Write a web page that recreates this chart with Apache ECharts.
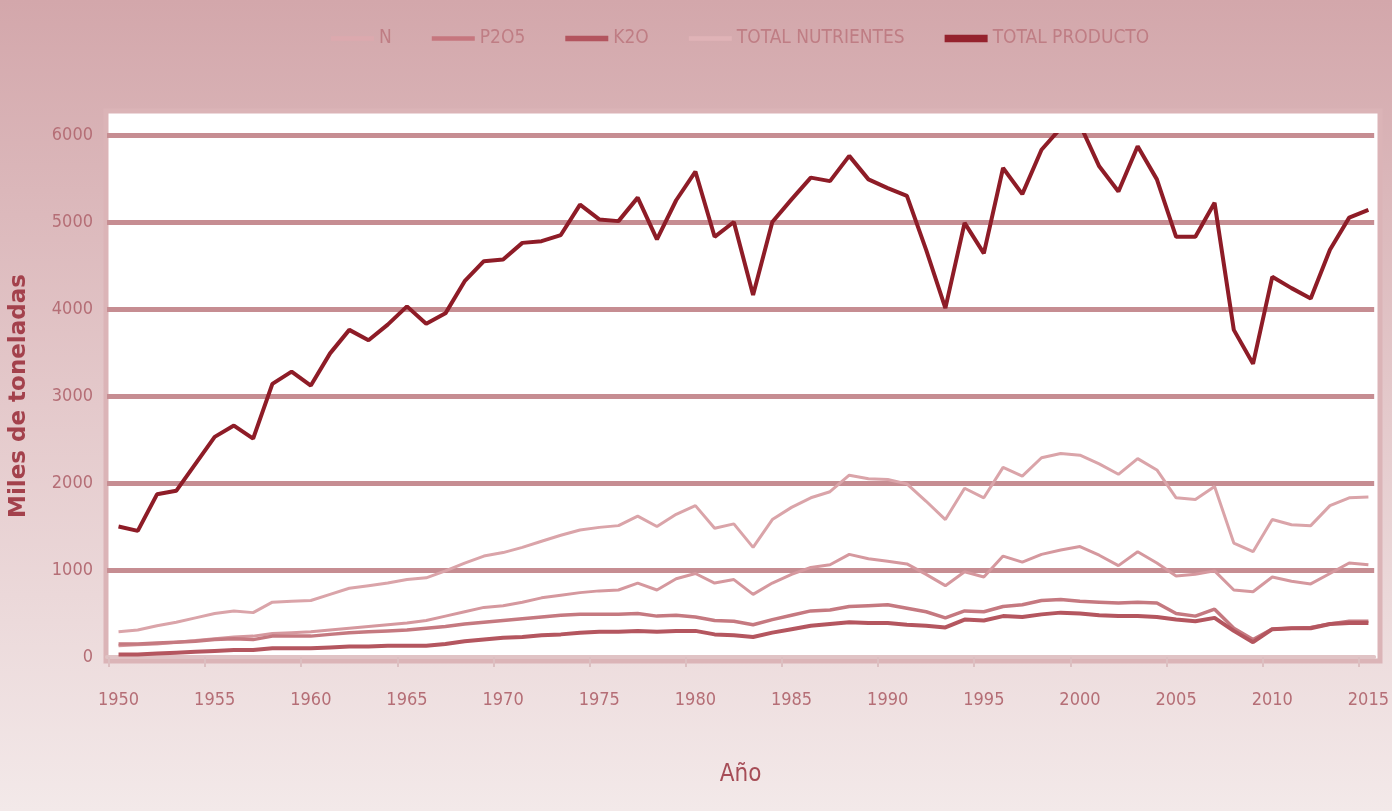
<!DOCTYPE html>
<html>
<head>
<meta charset="utf-8">
<script src="https://cdn.jsdelivr.net/npm/echarts@6/dist/echarts.min.js"></script>
<style>
  html, body { margin: 0; padding: 0; }
  #main { width: 1392px; height: 811px; }
</style>
</head>
<body>
<div id="main"></div>
<script>
// datos (miles de toneladas)
var years = [];
for (var y = 1950; y <= 2015; y++) years.push(y);

var yearTicks = [1950, 1955, 1960, 1965, 1970, 1975, 1980, 1985, 1990, 1995, 2000, 2005, 2010, 2015];
var tickMarks = [1949.5, 1954.5, 1959.5, 1964.5, 1969.5, 1974.5, 1979.5, 1984.5, 1989.5, 1994.5, 1999.5, 2004.5, 2009.5, 2014.5];

var nData = [130, 140, 150, 170, 190, 210, 230, 240, 270, 280,
  290, 310, 330, 350, 370, 390, 420, 470, 520, 570,
  590, 630, 680, 710, 740, 760, 770, 850, 770, 900,
  960, 850, 890, 720, 850, 950, 1030, 1060, 1180, 1130,
  1100, 1070, 950, 820, 980, 920, 1160, 1090, 1180, 1230,
  1270, 1170, 1050, 1210, 1080, 930, 950, 990, 770, 750,
  920, 870, 840, 960, 1080, 1060];

var p2o5Data = [150, 150, 160, 170, 180, 200, 210, 200, 240, 240,
  240, 260, 280, 290, 300, 310, 330, 350, 380, 400,
  420, 440, 460, 480, 490, 490, 490, 500, 470, 480,
  460, 420, 410, 370, 430, 480, 530, 540, 580, 590,
  600, 560, 520, 450, 530, 520, 580, 600, 650, 660,
  640, 630, 620, 630, 620, 500, 470, 550, 330, 200,
  320, 330, 340, 380, 410, 410];

var k2oData = [30, 30, 40, 50, 60, 70, 80, 80, 100, 100,
  100, 110, 120, 120, 130, 130, 130, 150, 180, 200,
  220, 230, 250, 260, 280, 290, 290, 300, 290, 300,
  300, 260, 250, 230, 280, 320, 360, 380, 400, 390,
  390, 370, 360, 340, 430, 420, 470, 460, 490, 510,
  500, 480, 470, 470, 460, 430, 410, 450, 300, 170,
  320, 330, 330, 380, 390, 390];

var totalNutData = [290, 310, 360, 400, 450, 500, 530, 510, 630, 640,
  650, 720, 790, 820, 850, 890, 910, 990, 1080, 1160,
  1200, 1260, 1330, 1400, 1460, 1490, 1510, 1620, 1500, 1640,
  1740, 1480, 1530, 1260, 1580, 1720, 1830, 1900, 2090, 2050,
  2040, 1990, 1790, 1580, 1940, 1830, 2180, 2080, 2290, 2340,
  2320, 2220, 2100, 2280, 2150, 1830, 1810, 1960, 1310, 1210,
  1580, 1520, 1510, 1740, 1830, 1840];

var totalProdData = [1500, 1450, 1870, 1910, 2220, 2530, 2660, 2510, 3140, 3280,
  3120, 3490, 3760, 3640, 3820, 4030, 3830, 3950, 4320, 4550,
  4570, 4760, 4780, 4850, 5200, 5030, 5010, 5280, 4800, 5250,
  5580, 4830, 5000, 4160, 5000, 5260, 5510, 5470, 5760, 5490,
  5390, 5300, 4680, 4010, 4990, 4640, 5620, 5320, 5830, 6080,
  6120, 5640, 5350, 5870, 5490, 4830, 4830, 5220, 3760, 3370,
  4370, 4240, 4120, 4680, 5050, 5140];

function pairs(arr) {
  var out = [];
  for (var i = 0; i < arr.length; i++) out.push([years[i], arr[i]]);
  return out;
}

var narrow = "'Liberation Sans Narrow', 'DejaVu Sans Condensed', sans-serif";

var myChart = echarts.init(document.getElementById('main'));

function serie(name, data, color, width, z) {
  return {
    name: name,
    type: 'line',
    data: pairs(data),
    showSymbol: false,
    symbol: 'none',
    z: z,
    lineStyle: { color: color, width: width },
    itemStyle: { color: color }
  };
}

// sin separador de miles
function plain(v) { return String(v); }

var option = {
  backgroundColor: {
    type: 'linear', x: 0, y: 0, x2: 0, y2: 1,
    colorStops: [
      { offset: 0, color: '#d3a7ab' },
      { offset: 0.5, color: '#e4c9cb' },
      { offset: 1, color: '#f3e9e9' }
    ]
  },
  animation: false,
  graphic: [{
    type: 'rect',
    z: -10,
    shape: { x: 106, y: 111, width: 1274, height: 550 },
    style: { fill: '#ffffff', stroke: '#dbb4b7', lineWidth: 5 }
  }],
  legend: {
    left: 326,
    top: 24,
    itemWidth: 43,
    itemHeight: 14,
    itemGap: 40,
    textStyle: { fontFamily: narrow, fontSize: 19, color: '#bf7d84' },
    data: [
      { name: 'N', icon: 'path://M0,0h40v4h-40z', itemStyle: { color: '#dca9ae' } },
      { name: 'P2O5', icon: 'path://M0,0h40v4h-40z', itemStyle: { color: '#c6767e' } },
      { name: 'K2O', icon: 'path://M0,0h40v5h-40z', itemStyle: { color: '#b3545e' } },
      { name: 'TOTAL NUTRIENTES', icon: 'path://M0,0h40v4h-40z', itemStyle: { color: '#e0b3b7' } },
      { name: 'TOTAL PRODUCTO', icon: 'path://M0,0h40v7h-40z', itemStyle: { color: '#95222d' } }
    ]
  },
  grid: { left: 105, right: 14, top: 135, bottom: 154 },
  xAxis: {
    type: 'value',
    min: 1949.4,
    max: 2015.3,
    name: 'Año',
    nameLocation: 'middle',
    nameGap: 106,
    nameTextStyle: { fontFamily: narrow, fontSize: 24, color: '#a64d57' },
    axisLine: { show: true, lineStyle: { color: '#e0c3c5', width: 4 } },
    axisTick: { show: true, customValues: tickMarks, length: 10, lineStyle: { color: '#dcbfc1', width: 2 } },
    axisLabel: {
      customValues: yearTicks,
      formatter: plain,
      margin: 34,
      fontFamily: narrow,
      fontSize: 18,
      color: '#b56e76'
    },
    splitLine: { show: false }
  },
  yAxis: {
    type: 'value',
    min: 0,
    max: 6000,
    interval: 1000,
    name: 'Miles de toneladas',
    nameLocation: 'middle',
    nameGap: 76,
    nameTextStyle: { fontFamily: 'DejaVu Sans', fontWeight: 'bold', fontSize: 23, color: '#a3414c' },
    axisLine: { show: false },
    axisTick: { show: false },
    axisLabel: { formatter: plain, margin: 14, fontFamily: narrow, fontSize: 18, color: '#b56e76' },
    splitLine: { show: true, showMinLine: false, lineStyle: { color: '#c68d92', width: 5 } }
  },
  series: [
    serie('N', nData, '#d5989e', 3, 3),
    serie('P2O5', p2o5Data, '#c57980', 3.5, 4),
    serie('K2O', k2oData, '#b4565f', 4, 5),
    serie('TOTAL NUTRIENTES', totalNutData, '#daa4a9', 3, 6),
    serie('TOTAL PRODUCTO', totalProdData, '#8e1c27', 4, 7)
  ]
};

myChart.setOption(option);
</script>
</body>
</html>
